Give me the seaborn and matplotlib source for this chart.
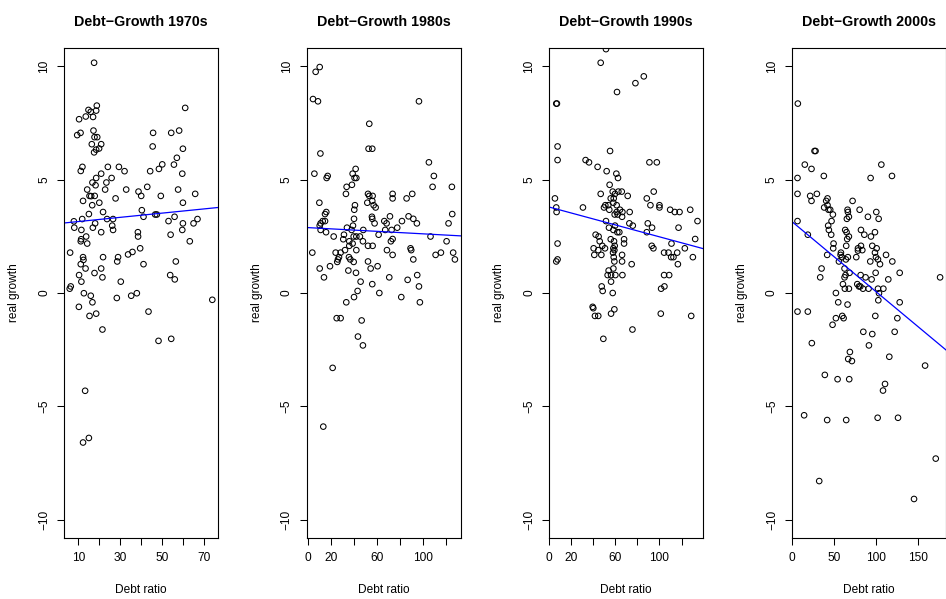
import numpy as np
import matplotlib
matplotlib.use("Agg")
import matplotlib.pyplot as plt
import seaborn as sns

# ==========================================================
# Dados (razão de dívida x crescimento real)
# ==========================================================
debt_1970s = [17.5, 18.8, 14.8, 15.9, 18.5, 13.5, 10.3, 17.0, 61.2, 9.4,
              11.0, 17.2, 17.7, 19.0, 16.4, 20.9, 17.5, 18.5, 19.9, 45.8,
              54.5, 58.3, 45.6, 60.1, 57.2, 55.8, 50.2, 48.6, 44.4, 32.1,
              29.4, 24.1, 11.9, 11.1, 59.8, 25.9, 23.4, 20.9, 18.5, 16.7,
              18.2, 14.2, 22.8, 32.9, 43.0, 38.8, 40.1, 49.5, 57.8, 66.0,
              15.3, 16.1, 17.8, 12.2, 20.0, 16.6, 27.8, 60.1, 21.8, 15.0,
              40.4, 41.2, 46.8, 47.6, 56.1, 67.1, 65.2, 60.1, 53.2, 26.6,
              23.7, 18.0, 11.8, 7.8, 8.0, 16.9, 26.2, 26.6, 20.9, 11.4,
              38.5, 38.6, 59.8, 54.2, 63.4, 13.7, 11.3, 11.1, 14.2, 6.0,
              39.6, 35.9, 33.8, 12.2, 12.4, 21.8, 29.0, 28.6, 56.7, 11.1,
              13.4, 20.9, 41.2, 17.7, 10.3, 54.0, 56.2, 21.5, 11.4, 30.3,
              6.3, 5.8, 74.2, 12.6, 15.9, 16.7, 10.2, 15.3, 18.5, 21.5,
              28.4, 35.3, 38.0, 43.6, 48.4, 54.5, 13.2, 12.2, 15.0]
growth_1970s = [10.15, 8.26, 8.07, 7.99, 8.04, 7.78, 7.66, 7.76, 8.16, 6.96,
                7.06, 7.16, 6.87, 6.87, 6.56, 6.56, 6.20, 6.32, 6.37, 7.06,
                7.06, 7.16, 6.46, 6.36, 5.96, 5.66, 5.67, 5.47, 5.37, 5.37,
                5.56, 5.56, 5.56, 5.38, 5.26, 5.07, 4.87, 5.26, 5.07, 4.87,
                4.75, 4.56, 4.56, 4.56, 4.68, 4.47, 4.28, 4.28, 4.56, 4.37,
                4.28, 4.27, 4.28, 4.06, 3.98, 3.87, 4.17, 3.98, 3.57, 3.48,
                3.65, 3.36, 3.46, 3.46, 3.36, 3.26, 3.07, 3.07, 3.17, 3.26,
                3.26, 3.07, 3.26, 3.16, 2.88, 2.88, 2.97, 2.78, 2.68, 2.78,
                2.68, 2.49, 2.78, 2.57, 2.28, 2.49, 2.37, 2.28, 2.18, 1.78,
                1.97, 1.81, 1.70, 1.58, 1.46, 1.58, 1.58, 1.39, 1.39, 1.27,
                1.08, 1.08, 1.27, 0.88, 0.79, 0.79, 0.60, 0.69, 0.50, 0.50,
                0.29, 0.19, -0.30, -0.01, -0.12, -0.41, -0.61, -1.01, -0.91, -1.61,
                -0.22, -0.12, -0.01, -0.82, -2.11, -2.02, -4.31, -6.59, -6.39]

debt_1980s = [10.4, 6.9, 4.6, 8.9, 96.3, 53.3, 52.7, 55.9, 11.0, 104.9,
              5.8, 17.3, 16.4, 109.2, 108.1, 124.8, 41.5, 38.9, 40.6, 42.1,
              33.7, 38.3, 33.1, 52.2, 53.3, 56.2, 73.5, 73.5, 85.6, 90.5,
              10.1, 51.6, 55.9, 57.1, 58.8, 40.9, 40.3, 16.1, 15.0, 55.6,
              55.9, 57.9, 40.1, 71.2, 66.3, 68.3, 81.6, 87.3, 91.4, 94.5,
              121.9, 125.1, 11.2, 13.0, 15.0, 10.4, 11.2, 15.9, 34.0, 39.2,
              38.0, 48.1, 67.1, 72.6, 77.5, 22.5, 31.4, 30.8, 36.0, 39.8,
              42.1, 45.2, 38.9, 36.0, 47.8, 52.2, 56.2, 61.4, 73.5, 72.0,
              106.3, 120.2, 89.0, 89.6, 42.1, 32.3, 28.5, 24.2, 27.1, 26.2,
              25.6, 35.7, 36.9, 39.8, 68.6, 73.5, 110.7, 115.3, 125.9, 127.4,
              91.4, 4.0, 10.4, 14.1, 19.3, 35.2, 41.8, 52.2, 54.5, 60.5,
              70.6, 86.5, 94.8, 96.3, 45.8, 43.2, 55.9, 40.1, 62.0, 81.0,
              33.4, 97.1, 25.1, 28.5, 46.7, 43.5, 47.8, 21.6, 13.5]
growth_1980s = [9.96, 9.75, 8.55, 8.45, 8.45, 7.46, 6.36, 6.36, 6.15, 5.76,
                5.26, 5.16, 5.07, 5.16, 4.68, 4.68, 5.47, 5.26, 5.07, 5.07,
                4.68, 4.77, 4.37, 4.37, 4.28, 4.28, 4.37, 4.17, 4.17, 4.37,
                3.98, 3.98, 4.06, 3.87, 3.77, 3.87, 3.67, 3.57, 3.48, 3.36,
                3.27, 3.07, 3.27, 3.38, 3.17, 3.07, 3.17, 3.38, 3.27, 3.07,
                3.07, 3.48, 3.07, 3.17, 3.17, 2.97, 2.78, 2.68, 2.88, 2.97,
                2.78, 2.78, 2.78, 2.78, 2.88, 2.49, 2.57, 2.37, 2.28, 2.49,
                2.49, 2.49, 2.18, 2.08, 2.28, 2.08, 2.08, 2.57, 2.38, 2.28,
                2.49, 2.28, 1.97, 1.89, 1.89, 1.89, 1.78, 1.78, 1.58, 1.48,
                1.37, 1.58, 1.48, 1.37, 1.89, 1.68, 1.68, 1.78, 1.78, 1.48,
                1.48, 1.78, 1.08, 0.69, 1.18, 0.99, 0.89, 1.39, 1.08, 1.18,
                0.69, 0.58, 0.79, 0.29, 0.50, 0.09, 0.39, -0.18, 0.0, -0.18,
                -0.41, -0.41, -1.11, -1.11, -1.21, -1.92, -2.31, -3.30, -5.89]

debt_1990s = [51.5, 46.7, 85.8, 78.2, 61.5, 6.4, 7.0, 7.6, 7.6, 55.2,
              33.0, 36.1, 43.9, 52.1, 60.9, 62.4, 90.9, 97.6, 54.8, 46.7,
              5.2, 6.4, 6.7, 30.6, 57.6, 59.7, 62.7, 65.8, 55.8, 58.5,
              71.2, 58.2, 53.6, 50.9, 49.7, 54.5, 61.2, 64.2, 66.4, 61.2,
              59.4, 62.1, 66.1, 73.0, 94.8, 88.5, 91.8, 100.0, 100.0, 109.7,
              113.9, 118.2, 127.9, 134.5, 51.5, 72.7, 75.8, 59.7, 54.2, 58.2,
              61.8, 63.6, 89.4, 93.3, 88.5, 117.3, 42.1, 44.8, 45.8, 55.8,
              58.8, 67.9, 67.9, 59.4, 48.2, 50.6, 40.3, 44.5, 7.6, 58.2,
              59.1, 57.9, 40.9, 47.3, 58.5, 66.1, 59.1, 66.1, 74.8, 93.0,
              94.5, 110.9, 104.2, 108.2, 116.1, 123.0, 132.4, 110.6, 112.7, 116.7,
              130.3, 6.4, 7.6, 53.9, 58.2, 53.0, 56.1, 60.0, 66.4, 56.1,
              104.2, 108.8, 47.6, 48.5, 57.6, 101.5, 104.5, 39.4, 40.0, 41.5,
              44.5, 56.1, 59.1, 101.2, 128.8, 75.5, 49.1]
growth_1990s = [10.75, 10.15, 9.55, 9.25, 8.86, 8.35, 8.35, 6.46, 5.86, 6.26,
                5.86, 5.76, 5.56, 5.37, 5.26, 5.07, 5.76, 5.76, 4.77, 4.37,
                4.17, 3.77, 3.57, 3.77, 4.47, 4.37, 4.47, 4.47, 4.17, 4.17,
                4.28, 3.98, 3.87, 3.87, 3.77, 3.67, 3.87, 3.67, 3.57, 3.57,
                3.46, 3.46, 3.36, 3.57, 4.47, 4.17, 3.87, 3.87, 3.77, 3.67,
                3.57, 3.57, 3.67, 3.17, 3.17, 3.07, 2.97, 2.97, 2.88, 2.78,
                2.68, 2.68, 3.07, 2.88, 2.68, 2.88, 2.57, 2.49, 2.28, 2.37,
                2.28, 2.37, 2.18, 2.08, 2.08, 1.97, 1.97, 1.89, 2.18, 1.97,
                1.89, 1.78, 1.68, 1.68, 1.58, 1.68, 1.39, 1.39, 1.27, 2.08,
                1.97, 2.18, 1.78, 1.78, 1.78, 1.97, 2.38, 1.58, 1.58, 1.27,
                1.58, 1.39, 1.48, 0.99, 1.08, 0.79, 0.79, 0.79, 0.79, 0.50,
                0.79, 0.79, 0.29, 0.09, 0.0, 0.19, 0.29, -0.61, -0.67, -1.01,
                -1.01, -0.91, -0.72, -0.91, -1.01, -1.61, -2.02]

debt_2000s = [7.2, 27.1, 28.3, 15.5, 23.5, 6.8, 38.2, 94.0, 106.8, 119.5,
              6.8, 21.9, 23.5, 29.9, 41.0, 42.6, 38.6, 42.6, 43.8, 45.8,
              49.0, 72.5, 66.5, 66.9, 68.1, 65.7, 80.9, 90.8, 100.8, 103.6,
              6.8, 47.4, 43.4, 44.2, 47.0, 19.1, 63.7, 65.3, 68.1, 66.1,
              82.5, 86.5, 94.4, 99.2, 49.8, 49.4, 64.9, 78.9, 82.5, 78.9,
              84.1, 96.0, 101.2, 42.2, 58.6, 58.2, 59.8, 64.5, 66.9, 76.9,
              99.2, 100.4, 102.8, 105.2, 93.6, 112.4, 119.9, 56.2, 62.9, 35.5,
              33.9, 64.1, 68.9, 62.9, 82.1, 88.0, 95.2, 100.0, 115.1, 128.7,
              176.9, 61.0, 78.1, 80.1, 81.7, 63.3, 68.1, 84.9, 91.6, 102.8,
              109.2, 52.6, 104.0, 103.2, 55.4, 66.5, 128.7, 6.8, 19.1, 52.6,
              60.2, 61.8, 99.6, 125.9, 48.6, 85.3, 96.0, 122.7, 23.9, 92.0,
              69.3, 67.3, 71.7, 116.3, 159.0, 39.4, 54.6, 68.5, 111.2, 108.8,
              14.7, 42.2, 64.9, 102.4, 126.7, 171.7, 32.7, 145.8]
growth_2000s = [8.35, 6.26, 6.26, 5.66, 5.47, 5.07, 5.16, 5.07, 5.66, 5.16,
                4.37, 4.28, 4.06, 4.37, 4.06, 4.17, 3.77, 3.87, 3.67, 3.67,
                3.46, 4.06, 3.67, 3.57, 3.36, 3.27, 3.67, 3.36, 3.57, 3.27,
                3.17, 3.17, 2.97, 2.78, 2.57, 2.57, 2.78, 2.68, 2.49, 2.38,
                2.78, 2.57, 2.49, 2.68, 2.18, 1.97, 2.08, 1.97, 2.08, 1.87,
                1.89, 2.08, 1.97, 1.68, 1.78, 1.68, 1.58, 1.48, 1.58, 1.58,
                1.78, 1.58, 1.48, 1.27, 1.39, 1.68, 1.39, 1.39, 1.08, 1.08,
                0.69, 0.79, 0.89, 0.69, 0.79, 0.69, 0.60, 0.89, 0.60, 0.89,
                0.69, 0.39, 0.39, 0.29, 0.29, 0.19, 0.19, 0.19, 0.19, 0.19,
                0.19, 0.0, -0.01, -0.32, -0.41, -0.51, -0.41, -0.82, -0.82, -1.11,
                -1.01, -1.11, -1.01, -1.11, -1.40, -1.71, -1.81, -1.71, -2.21, -2.31,
                -2.60, -2.91, -3.00, -2.81, -3.20, -3.61, -3.80, -3.80, -4.01, -4.30,
                -5.39, -5.60, -5.60, -5.50, -5.50, -7.30, -8.29, -9.08]

decadas = ["1970s", "1980s", "1990s", "2000s"]
dados = [(debt_1970s, growth_1970s), (debt_1980s, growth_1980s),
         (debt_1990s, growth_1990s), (debt_2000s, growth_2000s)]

x_ticks = [[10, 20, 30, 40, 50, 60, 70],
           [0, 20, 40, 60, 80, 100, 120],
           [0, 20, 40, 60, 80, 100, 120],
           [0, 50, 100, 150]]
x_labels = [["10", "", "30", "", "50", "", "70"],
            ["0", "20", "", "60", "", "100", ""],
            ["0", "20", "", "60", "", "100", ""],
            ["0", "50", "100", "150"]]
y_ticks = [-10, -5, 0, 5, 10]

# ==========================================================
# Gráficos
# ==========================================================
sns.set_style("white")
plt.rcParams['font.family'] = ['Liberation Sans', 'DejaVu Sans']
plt.rcParams['text.color'] = 'black'
plt.rcParams['axes.labelcolor'] = 'black'

W, H = 946, 599
fig = plt.figure(figsize=(W / 100, H / 100), dpi=100)
lefts = [64, 306.6, 549.2, 791.8]

for i, (debt, growth) in enumerate(dados):
    ax = fig.add_axes([lefts[i] / W, (H - 538) / H, 154 / W, 490 / H])
    sns.regplot(
        x=debt, y=growth, ax=ax, ci=None, truncate=False, color='black',
        scatter_kws={'s': 16, 'facecolors': 'none', 'linewidths': 0.75, 'alpha': 1},
        line_kws={'color': 'blue', 'lw': 0.9}
    )

    # limites no estilo do R (4% de folga)
    r = max(debt) - min(debt)
    ax.set_xlim(min(debt) - 0.04 * r, max(debt) + 0.04 * r)
    ax.set_ylim(-10.8, 10.8)

    ax.set_xticks(x_ticks[i])
    ax.set_xticklabels(x_labels[i])
    ax.set_yticks(y_ticks)
    ax.set_yticklabels([str(v).replace("-", "\u2212") for v in y_ticks])
    ax.tick_params(direction='out', length=5, width=0.75, labelsize=8.6,
                   colors='black', left=True, bottom=True)
    ax.tick_params(axis='x', pad=5)
    ax.tick_params(axis='y', pad=5, labelrotation=90)
    plt.setp(ax.get_yticklabels(), va='center')

    for s in ax.spines.values():
        s.set_color('black')
        s.set_linewidth(0.8)

    ax.set_title(f"Debt\u2212Growth {decadas[i]}", fontsize=10.3,
                 fontweight='bold', pad=16, color='black')
    ax.set_xlabel("Debt ratio", fontsize=8.6, color='black')
    ax.set_ylabel("real growth", fontsize=8.6, color='black')
    ax.xaxis.set_label_coords(0.5, -0.094)
    ax.yaxis.set_label_coords(-0.286, 0.5)

plt.savefig("out.png", dpi=100)
